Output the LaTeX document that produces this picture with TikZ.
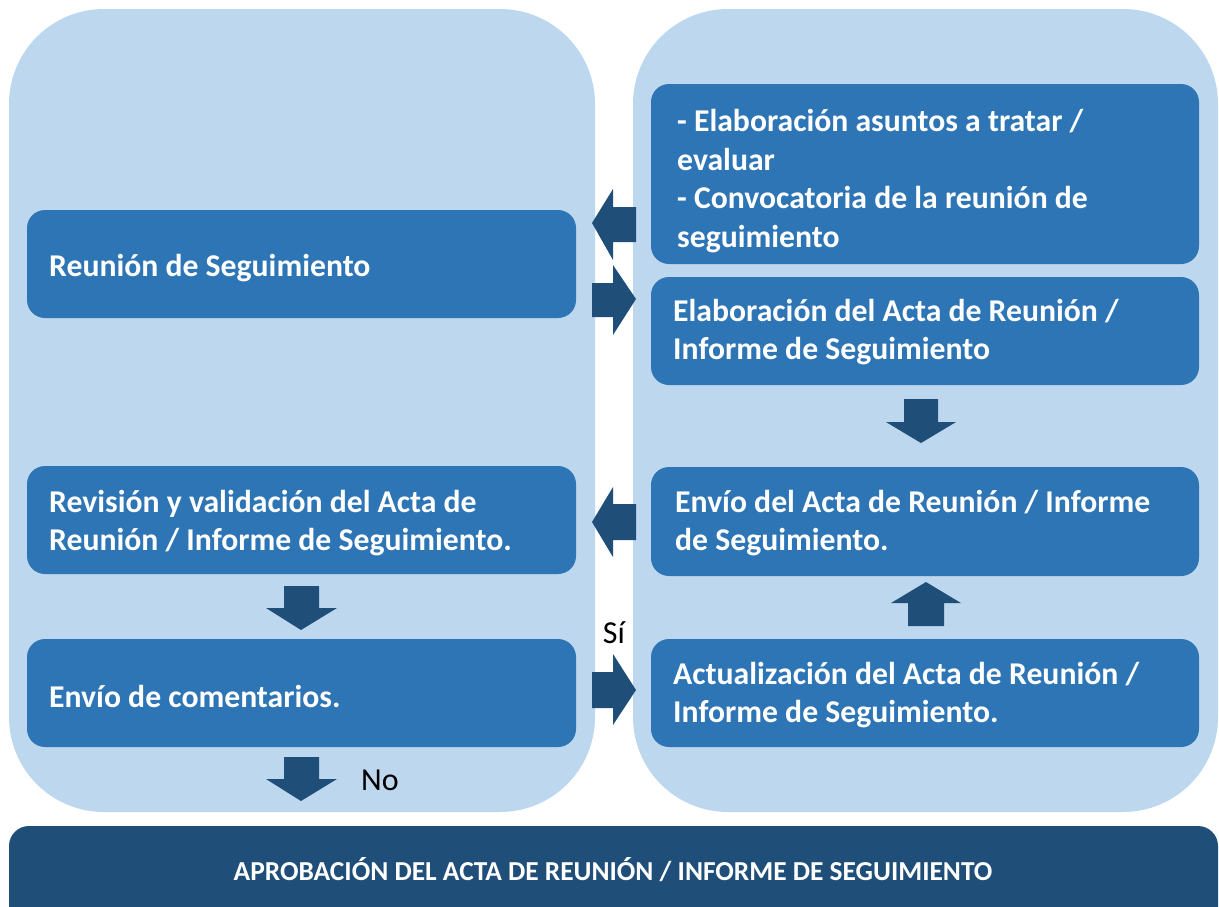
\documentclass[tikz,border=0pt]{standalone}
\usepackage{fontspec}
\setmainfont{Carlito}
\definecolor{panel}{HTML}{BDD7EE}
\definecolor{boxblue}{HTML}{2E75B6}
\definecolor{darkblue}{HTML}{1F4E79}
\begin{document}
\begin{tikzpicture}[x=1pt,y=-1pt,
  panelbox/.style={fill=panel, rounded corners=95pt},
  stepbox/.style={fill=boxblue, rounded corners=18pt},
  txt/.style={anchor=west, align=left, text=white, font=\fontsize{31.7}{38.5}\selectfont\bfseries, inner sep=0pt},
  plain/.style={anchor=center, text=black, font=\fontsize{32}{34}\selectfont, inner sep=0pt},
  blockarrow/.style={fill=darkblue}]
\useasboundingbox (0,0) rectangle (1219,906);
% panels
\fill[panelbox] (9,9) rectangle (595,812);
\fill[panelbox] (633,9) rectangle (1218,812);
% bottom bar
\begin{scope}
\clip (0,0) rectangle (1219,906);
\fill[darkblue, rounded corners=20pt] (9,826) rectangle (1218,940);
\end{scope}
\node[text=white, font=\fontsize{27.4}{30}\selectfont\bfseries, inner sep=0pt] (aprob) at (613,870) {APROBACIÓN DEL ACTA DE REUNIÓN / INFORME DE SEGUIMIENTO};
% left boxes
\fill[stepbox] (27,210) rectangle (576,318);
\fill[stepbox] (27,466) rectangle (576,574);
\fill[stepbox] (27,639) rectangle (576,747);
% right boxes
\fill[stepbox] (651,84) rectangle (1199,264);
\fill[stepbox] (651,277) rectangle (1199,385);
\fill[stepbox] (651,467) rectangle (1199,576);
\fill[stepbox] (651,639) rectangle (1199,747);
% texts
\node[txt] (reunion) at (49,268) {Reunión de Seguimiento};
\node[txt] (revision) at (49,523) {Revisión y validación del Acta de\\Reunión / Informe de Seguimiento.};
\node[txt] (comentarios) at (49,696) {Envío de comentarios.};
\node[txt] (asuntos) at (677,181) {- Elaboración asuntos a tratar /\\evaluar\\- Convocatoria de la reunión de\\seguimiento};
\node[txt] (elabacta) at (673,332) {Elaboración del Acta de Reunión /\\Informe de Seguimiento};
\node[txt] (envioacta) at (675,523) {Envío del Acta de Reunión / Informe\\de Seguimiento.};
\node[txt] (actualiz) at (673,695) {Actualización del Acta de Reunión /\\Informe de Seguimiento.};
\node[plain] (si) at (614,633) {Sí};
\node[plain] (no) at (380,780) {No};
% block arrows
% left-pointing (top)
\fill[blockarrow] (592,223) -- (613,189) -- (613,207) -- (636,207) -- (636,242) -- (613,242) -- (613,260) -- cycle;
% right-pointing (top)
\fill[blockarrow] (636,299) -- (613,265) -- (613,283) -- (592,283) -- (592,317) -- (613,317) -- (613,335) -- cycle;
% left-pointing (middle)
\fill[blockarrow] (592,522) -- (613,487) -- (613,504) -- (636,504) -- (636,540) -- (613,540) -- (613,557) -- cycle;
% right-pointing (Si)
\fill[blockarrow] (636,690) -- (613,654) -- (613,672) -- (592,672) -- (592,708) -- (613,708) -- (613,725) -- cycle;
% right down arrow
\fill[blockarrow] (921,443) -- (886,422) -- (904,422) -- (904,399) -- (938,399) -- (938,422) -- (956,422) -- cycle;
% right up arrow
\fill[blockarrow] (926,582) -- (891,603) -- (908,603) -- (908,626) -- (944,626) -- (944,603) -- (961,603) -- cycle;
% left down arrow
\fill[blockarrow] (301,630) -- (266,608) -- (284,608) -- (284,586) -- (319,586) -- (319,608) -- (337,608) -- cycle;
% left down arrow (No)
\fill[blockarrow] (301,801) -- (266,779) -- (284,779) -- (284,757) -- (319,757) -- (319,779) -- (337,779) -- cycle;
\end{tikzpicture}
\end{document}
